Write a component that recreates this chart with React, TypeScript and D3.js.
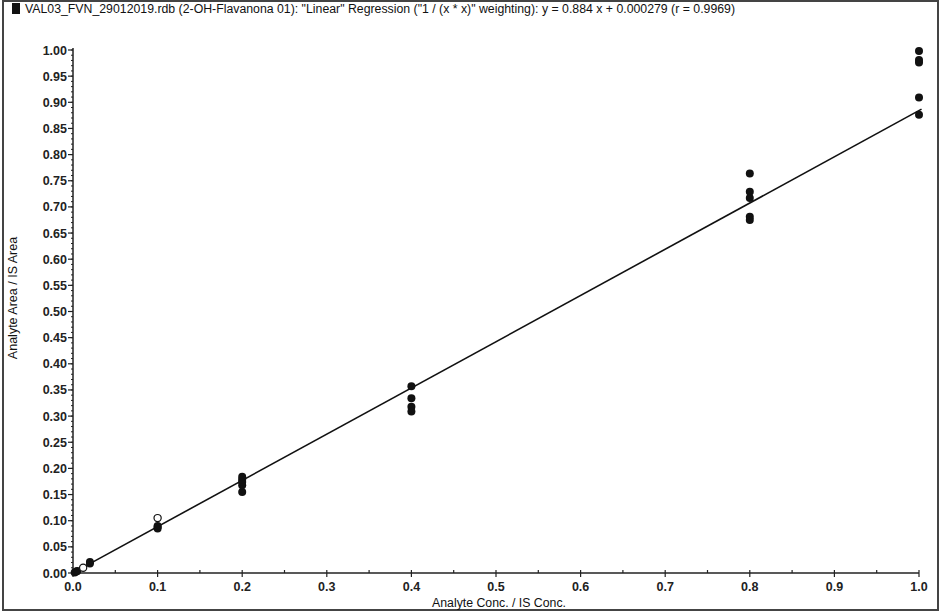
import React from "react";
import * as d3 from "d3";

const titleText =
  'VAL03_FVN_29012019.rdb (2-OH-Flavanona 01): "Linear" Regression ("1  / (x * x)" weighting): y = 0.884 x + 0.000279 (r = 0.9969)';
const xLabel = "Analyte Conc. / IS Conc.";
const yLabel = "Analyte Area / IS Area";

const slope = 0.884;
const intercept = 0.000279;

const filledX = [0.002, 0.004, 0.005, 0.02, 0.02, 0.1, 0.1, 0.1, 0.2, 0.2, 0.2, 0.2, 0.2, 0.4, 0.4, 0.4, 0.4, 0.8, 0.8, 0.8, 0.8, 0.8, 1.0, 1.0, 1.0, 1.0, 1.0];
const filledY = [0.001, 0.003, 0.004, 0.018, 0.021, 0.085, 0.088, 0.09, 0.155, 0.168, 0.174, 0.179, 0.184, 0.357, 0.334, 0.318, 0.309, 0.764, 0.729, 0.717, 0.681, 0.675, 0.998, 0.981, 0.976, 0.909, 0.876];
const openX = [0.012, 0.1];
const openY = [0.01, 0.105];

const yTicks = [0, 0.05, 0.1, 0.15, 0.2, 0.25, 0.3, 0.35, 0.4, 0.45, 0.5, 0.55, 0.6, 0.65, 0.7, 0.75, 0.8, 0.85, 0.9, 0.95, 1.0];
const xTicks = [0, 0.1, 0.2, 0.3, 0.4, 0.5, 0.6, 0.7, 0.8, 0.9, 1.0];

export default function App() {
  const W = 941, H = 613;
  const x = d3.scaleLinear().domain([0, 1]).range([73, 919]);
  const y = d3.scaleLinear().domain([0, 1]).range([573, 50]);
  const yMinor = d3.range(0, 101).map((i) => i / 100);
  const xMinor = d3.range(0, 21).map((i) => i / 20);
  const line = d3.line<number>().x((v) => x(v)).y((v) => y(slope * v + intercept));
  const font = "Liberation Sans, Arial, sans-serif";
  return (
    <svg width={W} height={H} style={{ position: "absolute", left: 0, top: 0, background: "#fff" }} fontFamily={font}>
      <rect x={3} y={1} width={935} height={609} fill="none" stroke="#444" strokeWidth={2} />
      <rect x={12} y={3} width={8} height={11} fill="#111" />
      <text x={25} y={13} fontSize={12.3} fill="#111">{titleText}</text>
      {/* axes */}
      <line x1={x(0)} x2={x(0)} y1={y(1) - 2} y2={y(0)} stroke="#222" strokeWidth={1.5} />
      <line x1={x(0)} x2={x(1)} y1={y(0)} y2={y(0)} stroke="#222" strokeWidth={1.5} />
      {yMinor.map((v, i) => (
        <line key={"ym" + i} x1={x(0) - 2} x2={x(0)} y1={y(v)} y2={y(v)} stroke="#222" strokeWidth={1} />
      ))}
      {yTicks.map((v, i) => (
        <g key={"yt" + i}>
          <line x1={x(0) - 5} x2={x(0)} y1={y(v)} y2={y(v)} stroke="#222" strokeWidth={1.2} />
          <text x={x(0) - 6} y={y(v) + 4.5} textAnchor="end" fontSize={12.5} fontWeight="bold" fill="#222">
            {v.toFixed(2)}
          </text>
        </g>
      ))}
      {xMinor.map((v, i) => (
        <line key={"xm" + i} x1={x(v)} x2={x(v)} y1={y(0)} y2={y(0) - 3} stroke="#222" strokeWidth={1.2} />
      ))}
      {xTicks.map((v, i) => (
        <g key={"xt" + i}>
          <line x1={x(v)} x2={x(v)} y1={y(0)} y2={y(0) + 4} stroke="#222" strokeWidth={1.2} />
          <text x={x(v)} y={y(0) + 18} textAnchor="middle" fontSize={12.5} fontWeight="bold" fill="#222">
            {v.toFixed(1)}
          </text>
        </g>
      ))}
      <text x={499} y={607} textAnchor="middle" fontSize={12.3} fill="#111">{xLabel}</text>
      <text transform={`translate(17,298) rotate(-90)`} textAnchor="middle" fontSize={12.5} fill="#111">{yLabel}</text>
      {/* regression line */}
      <path d={line([0, 1.003]) || ""} fill="none" stroke="#111" strokeWidth={1.6} />
      {filledX.map((v, i) => (
        <circle key={"f" + i} cx={x(v)} cy={y(filledY[i])} r={4} fill="#111" />
      ))}
      {openX.map((v, i) => (
        <circle key={"o" + i} cx={x(v)} cy={y(openY[i])} r={3.6} fill="#fff" stroke="#111" strokeWidth={1.2} />
      ))}
    </svg>
  );
}
